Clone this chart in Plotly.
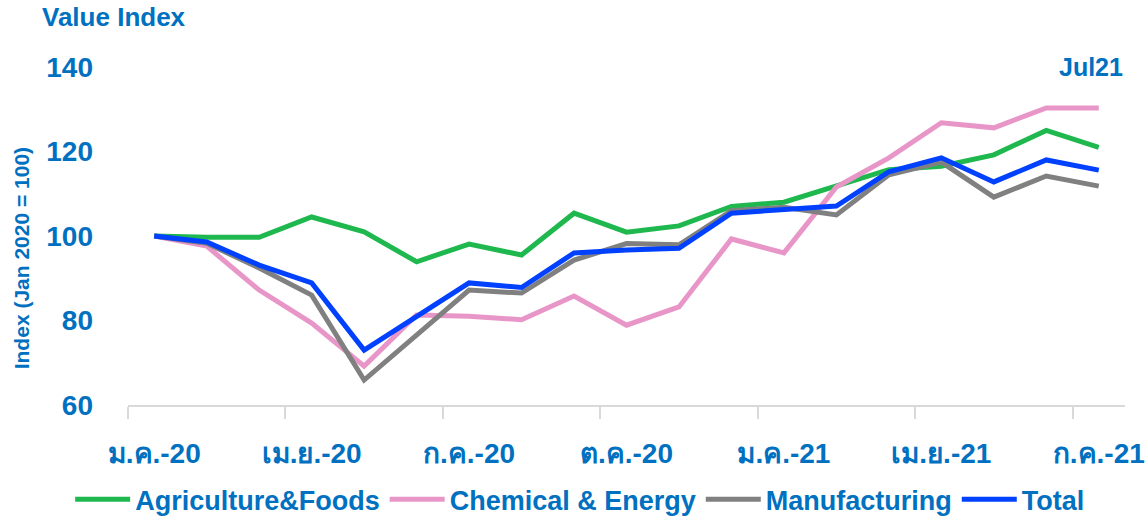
import plotly.graph_objects as go

# Monthly index values, Jan 2020 = 100
months = ["Jan20", "Feb20", "Mar20", "Apr20", "May20", "Jun20", "Jul20", "Aug20", "Sep20",
          "Oct20", "Nov20", "Dec20", "Jan21", "Feb21", "Mar21", "Apr21", "May21", "Jun21", "Jul21"]
agri = [100, 99.7, 99.7, 104.5, 101.0, 93.9, 98.1, 95.5, 105.4, 100.9, 102.4, 107.0, 108.0,
        111.8, 115.7, 116.5, 119.2, 125.0, 121.0]
chem = [100, 97.6, 87.2, 79.4, 69.2, 81.3, 81.0, 80.2, 85.8, 78.9, 83.2, 99.3, 96.0,
        111.6, 118.5, 126.8, 125.6, 130.3, 130.3]
manu = [100, 98.3, 92.4, 86.0, 65.9, 76.6, 87.2, 86.5, 94.3, 98.2, 97.9, 106.0, 106.8,
        105.0, 114.5, 117.5, 109.2, 114.2, 111.8]
total = [100, 98.6, 93.1, 88.9, 73.0, 80.8, 88.9, 87.8, 96.0, 96.7, 97.1, 105.4, 106.2,
         107.1, 115.2, 118.5, 112.8, 118.0, 115.6]

tick_idx = [0, 3, 6, 9, 12, 15, 18]
tick_text = ["ม.ค.-20", "เม.ย.-20", "ก.ค.-20", "ต.ค.-20", "ม.ค.-21", "เม.ย.-21", "ก.ค.-21"]
y_ticks = [60, 80, 100, 120, 140]

BLUE_TEXT = "#0070C0"
FONT = "Liberation Sans, Arial, sans-serif"

series = [
    ("Agriculture&Foods", agri, "#1FB84F"),
    ("Chemical & Energy", chem, "#E896C8"),
    ("Manufacturing", manu, "#808080"),
    ("Total", total, "#0040FF"),
]


def bold_font(size):
    return dict(family=FONT, size=size, color=BLUE_TEXT, weight="bold")


x = list(range(len(months)))
fig = go.Figure()
for name, vals, color in series:
    fig.add_trace(go.Scatter(
        x=x, y=vals, name=name, mode="lines",
        line=dict(color=color, width=5),
        customdata=months, hovertemplate="%{customdata}: %{y}<extra>" + name + "</extra>",
    ))

fig.update_layout(
    width=1145, height=520,
    margin=dict(l=128, r=20, t=67, b=115, autoexpand=False),
    paper_bgcolor="white", plot_bgcolor="white",
    font=bold_font(26),
    showlegend=True,
    # Legend starts left of the plot area so the single row can use the full width
    legend=dict(orientation="h", x=-0.058, xanchor="left", y=-0.28, yanchor="middle",
                font=bold_font(27), itemwidth=55, tracegroupgap=0,
                bgcolor="rgba(0,0,0,0)"),
    xaxis=dict(
        range=[-0.5, len(months) - 0.5], tickmode="array", tickvals=tick_idx, ticktext=tick_text,
        ticks="", showgrid=False, zeroline=False, showline=True, linecolor="#D9D9D9", linewidth=2,
        tickfont=bold_font(28), ticklabelstandoff=22, automargin=False,
        minor=dict(tickmode="linear", tick0=-0.5, dtick=3, ticks="outside", ticklen=12,
                   tickcolor="#D9D9D9", tickwidth=2, showgrid=False),
    ),
    yaxis=dict(
        range=[60, 140], tickmode="array", tickvals=y_ticks, ticks="", showgrid=False,
        zeroline=False, showline=False, automargin=False,
        tickfont=bold_font(28), ticklabelstandoff=34,
    ),
    annotations=[
        dict(text="Value Index", xref="paper", yref="paper", x=-0.088, y=1.148,
             xanchor="left", yanchor="middle", showarrow=False, font=bold_font(26)),
        dict(text="Jul21", xref="paper", yref="paper", x=1.0, y=1.0,
             xanchor="right", yanchor="middle", showarrow=False, font=bold_font(25)),
        dict(text="Index (Jan 2020 = 100)", xref="paper", yref="paper", x=-0.106, y=0.435,
             xanchor="center", yanchor="middle", textangle=-90, showarrow=False,
             font=bold_font(21)),
    ],
)

fig.write_html("out.html")
